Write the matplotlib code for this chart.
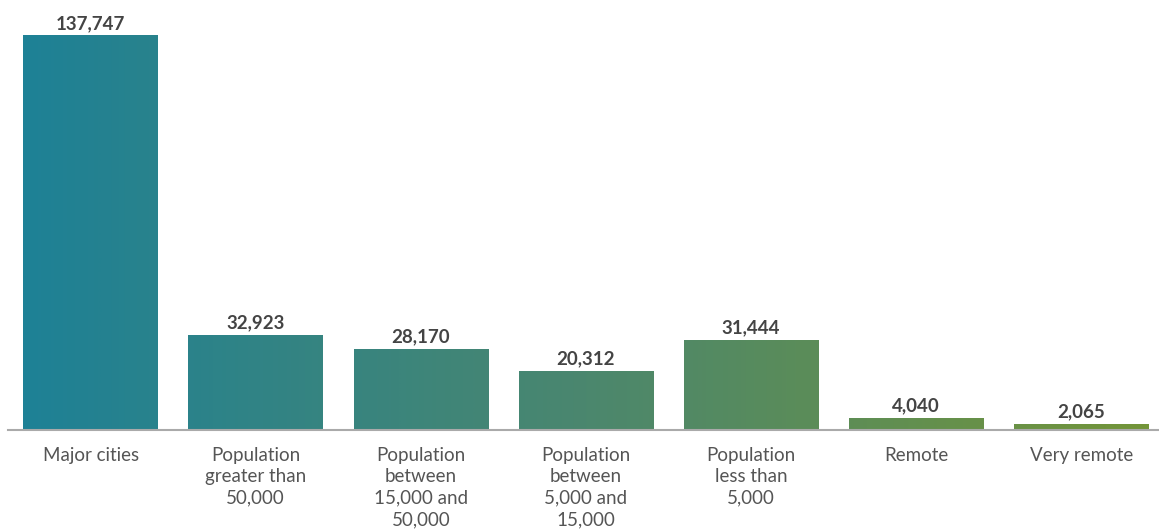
import numpy as np
import matplotlib.pyplot as plt
from matplotlib.colors import LinearSegmentedColormap

categories = ["Major cities", "Population\ngreater than\n50,000",
              "Population\nbetween\n15,000 and\n50,000",
              "Population\nbetween\n5,000 and\n15,000",
              "Population\nless than\n5,000", "Remote", "Very remote"]
values = [137747, 32923, 28170, 20312, 31444, 4040, 2065]

plt.rcParams['font.family'] = ['Lato', 'DejaVu Sans']

fig = plt.figure(figsize=(11.59, 5.30), dpi=100)
ax = fig.add_axes([8 / 1159, 100 / 530, 1 - 8 / 1159, 430 / 530])

x = np.arange(len(values))
width = 0.815
bars = ax.bar(x, values, width=width, color='none')

# one horizontal gradient spread across all the bars
cmap = LinearSegmentedColormap.from_list('tealgreen', ['#1e8196', '#4b876e', '#739539'])
xmin, xmax = -width / 2, len(values) - 1 + width / 2
for b in bars:
    x0, x1 = b.get_x(), b.get_x() + b.get_width()
    grad = np.linspace((x0 - xmin) / (xmax - xmin), (x1 - xmin) / (xmax - xmin), 64)
    ax.imshow(grad[np.newaxis, :], cmap=cmap, vmin=0, vmax=1, aspect='auto',
              extent=[x0, x1, 0, b.get_height()], zorder=2, interpolation='bilinear')

for xi, v in zip(x, values):
    ax.annotate(f"{v:,}", (xi, v), xytext=(0, 3), textcoords='offset points',
                ha='center', va='bottom', fontsize=13.5, fontweight='bold', color='#444444')

ax.set_xlim(-0.5, 6.47)
ax.set_ylim(0, 137747 * 430 / 394)
ax.set_xticks(x)
ax.set_xticklabels(categories, fontsize=13.5, color='#555555', linespacing=1.32)
ax.tick_params(axis='x', length=0, pad=12)
ax.set_yticks([])
for s in ['top', 'right', 'left']:
    ax.spines[s].set_visible(False)
ax.spines['bottom'].set_color('#aaaaaa')
ax.spines['bottom'].set_linewidth(1.5)
ax.spines['bottom'].set_zorder(3)

fig.savefig('out.png', dpi=100)
